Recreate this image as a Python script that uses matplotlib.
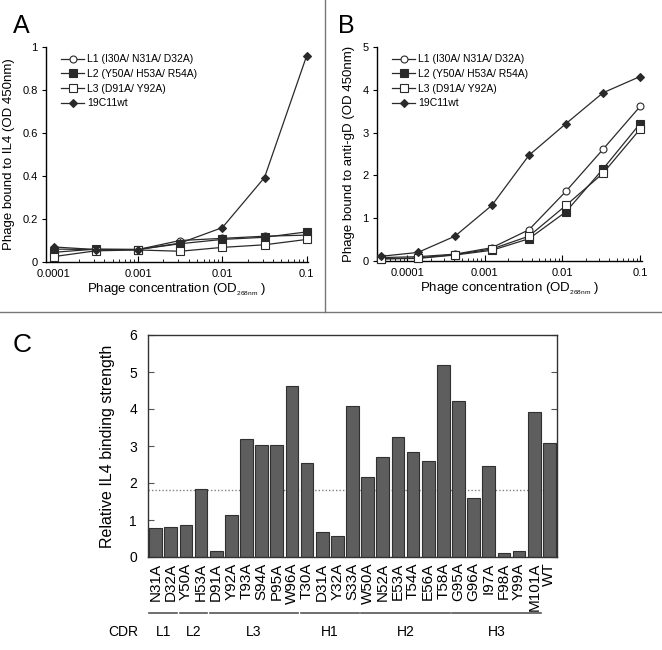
import matplotlib
matplotlib.use("Agg")

import matplotlib.pyplot as plt
import matplotlib.ticker as mticker
import matplotlib.transforms as mtrans
from matplotlib.lines import Line2D

plt.rcParams["font.family"] = ["Liberation Sans", "DejaVu Sans"]
plt.rcParams["mathtext.fontset"] = "custom"
plt.rcParams["mathtext.rm"] = "Liberation Sans"

# ── Data: panel A (binding to IL4) ───────────────────────────────────────────
conc_a = [1e-4, 3.16e-4, 1e-3, 3.16e-3, 1e-2, 3.16e-2, 1e-1]
a_l1 = [0.060, 0.058, 0.058, 0.100, 0.110, 0.120, 0.125]
a_l2 = [0.045, 0.060, 0.058, 0.085, 0.105, 0.115, 0.140]
a_l3 = [0.025, 0.052, 0.056, 0.050, 0.068, 0.080, 0.105]
a_wt = [0.070, 0.058, 0.058, 0.088, 0.160, 0.393, 0.960]

# ── Data: panel B (binding to anti-gD) ───────────────────────────────────────
conc_b = [4.57e-5, 1.37e-4, 4.12e-4, 1.23e-3, 3.70e-3, 1.11e-2, 3.33e-2, 1e-1]
b_l1 = [0.08, 0.10, 0.16, 0.31, 0.73, 1.63, 2.61, 3.61]
b_l2 = [0.05, 0.06, 0.14, 0.25, 0.52, 1.15, 2.15, 3.21]
b_l3 = [0.05, 0.07, 0.15, 0.28, 0.58, 1.30, 2.05, 3.08]
b_wt = [0.11, 0.20, 0.58, 1.30, 2.47, 3.21, 3.93, 4.31]

series_labels = ["L1 (I30A/ N31A/ D32A)", "L2 (Y50A/ H53A/ R54A)",
                 "L3 (D91A/ Y92A)", "19C11wt"]

# ── Data: panel C (alanine scan) ─────────────────────────────────────────────
mutants = ["N31A", "D32A", "Y50A", "H53A", "D91A", "Y92A", "T93A", "S94A",
           "P95A", "W96A", "T30A", "D31A", "Y32A", "S33A", "W50A", "N52A",
           "E53A", "T54A", "E56A", "T58A", "G95A", "G96A", "I97A", "F98A",
           "Y99A", "M101A", "WT"]
strength = [0.79, 0.81, 0.86, 1.84, 0.16, 1.13, 3.19, 3.03, 3.03, 4.63,
            2.55, 0.68, 0.57, 4.08, 2.15, 2.69, 3.23, 2.84, 2.60, 5.19,
            4.21, 1.60, 2.47, 0.12, 0.15, 3.92, 3.07]
threshold = 1.81

cdr_names = ["L1", "L2", "L3", "H1", "H2", "H3"]
cdr_first = [0, 2, 4, 10, 14, 20]
cdr_last = [1, 3, 9, 13, 19, 25]

# ── Styling ──────────────────────────────────────────────────────────────────
LINE_COL = "#2a2a2a"
BAR_COL = "#5e5e5e"
GRID_COL = "#808080"
markers = [dict(marker="o", mfc="white", ms=5),
           dict(marker="s", mfc=LINE_COL, ms=5.5),
           dict(marker="s", mfc="white", ms=5.5),
           dict(marker="D", mfc=LINE_COL, ms=4.5)]

W, H = 662, 650
fig = plt.figure(figsize=(W / 100, H / 100), dpi=100, facecolor="white")


def px_axes(left, right, top, bottom):
    return fig.add_axes([left / W, 1 - bottom / H, (right - left) / W, (bottom - top) / H])


def curve_panel(ax, x, ys, ylim, ystep, xlim, ylabel):
    for y, mk, lab in zip(ys, markers, series_labels):
        ax.plot(x, y, color=LINE_COL, lw=0.9, mec=LINE_COL, mew=0.8,
                label=lab, clip_on=False, zorder=3, **mk)
    ax.set_xscale("log")
    ax.set_xlim(*xlim)
    ax.set_ylim(*ylim)
    ax.yaxis.set_major_locator(mticker.MultipleLocator(ystep))
    ax.yaxis.set_major_formatter(mticker.FuncFormatter(lambda v, p: f"{v:g}"))
    ax.xaxis.set_major_locator(mticker.FixedLocator([1e-4, 1e-3, 1e-2, 1e-1]))
    ax.xaxis.set_major_formatter(mticker.FuncFormatter(lambda v, p: f"{v:g}"))
    ax.xaxis.set_minor_locator(mticker.LogLocator(subs=range(2, 10)))
    ax.xaxis.set_minor_formatter(mticker.NullFormatter())
    ax.spines[["top", "right"]].set_visible(False)
    ax.spines[["bottom", "left"]].set_linewidth(1.0)
    ax.tick_params(axis="x", which="major", direction="in", length=4, labelsize=8, pad=5)
    ax.tick_params(axis="x", which="minor", direction="in", length=2.5)
    ax.tick_params(axis="y", direction="out", length=3, labelsize=8, pad=3)
    ax.set_ylabel(ylabel, fontsize=9.5, labelpad=5)
    ax.set_xlabel(r"Phage concentration (OD$_{_{\mathregular{268nm}}}$ )", fontsize=9.5, labelpad=2)
    ax.legend(loc="upper left", bbox_to_anchor=(0.03, 1.0), frameon=False, fontsize=7.5,
              handlelength=2.2, handletextpad=0.3, labelspacing=0.45, borderaxespad=0.3)


ax_a = px_axes(46, 308, 47, 262)
curve_panel(ax_a, conc_a, [a_l1, a_l2, a_l3, a_wt], (0, 1), 0.2,
            (10 ** -4.09, 10 ** -0.985), "Phage bound to IL4 (OD 450nm)")

ax_b = px_axes(377, 642, 47, 261)
curve_panel(ax_b, conc_b, [b_l1, b_l2, b_l3, b_wt], (0, 5), 1,
            (10 ** -4.39, 10 ** -0.975), "Phage bound to anti-gD (OD 450nm)")

# ── Panel C: bar chart ───────────────────────────────────────────────────────
ax_c = px_axes(148, 557, 335, 557)
xs = list(range(len(mutants)))
ax_c.bar(xs, strength, width=0.84, color=BAR_COL, edgecolor="#303030", lw=0.8, zorder=2)
ax_c.axhline(threshold, color=GRID_COL, lw=1.0, ls=(0, (1, 1.5)), zorder=1)
ax_c.set_xlim(-0.5, len(mutants) - 0.5)
ax_c.set_ylim(0, 6)
ax_c.set_xticks(xs)
ax_c.set_xticklabels(mutants, rotation=90, fontsize=11)
ax_c.tick_params(axis="x", length=0, pad=4)
ax_c.tick_params(axis="y", direction="in", length=4, labelsize=10, pad=8,
                 right=True, color="#555555")
ax_c.set_ylabel("Relative IL4 binding strength", fontsize=11.5, labelpad=10)
for s in ax_c.spines.values():
    s.set_linewidth(1.0)
    s.set_color("#333333")

trans = mtrans.blended_transform_factory(ax_c.transData, ax_c.transAxes)
for name, i0, i1 in zip(cdr_names, cdr_first, cdr_last):
    ax_c.add_line(Line2D([i0 - 0.42, i1 + 0.42], [-0.252, -0.252], transform=trans,
                         color="#555555", lw=1.2, clip_on=False))
    ax_c.text((i0 + i1) / 2, -0.338, name, transform=trans, ha="center", va="center",
              fontsize=10)
ax_c.text(-0.061, -0.338, "CDR", transform=ax_c.transAxes, ha="center", va="center",
          fontsize=10)

# ── Panel dividers and letters ───────────────────────────────────────────────
fig.add_artist(Line2D([325 / W, 325 / W], [1 - 312 / H, 1], color="#777777", lw=1.0))
fig.add_artist(Line2D([0, 1], [1 - 312 / H, 1 - 312 / H], color="#777777", lw=1.0))

fig.text(13 / W, 1 - 14 / H, "A", fontsize=18, ha="left", va="top")
fig.text(338 / W, 1 - 14 / H, "B", fontsize=18, ha="left", va="top")
fig.text(13 / W, 1 - 333 / H, "C", fontsize=19, ha="left", va="top")

fig.savefig("out.png", dpi=100, facecolor="white")
